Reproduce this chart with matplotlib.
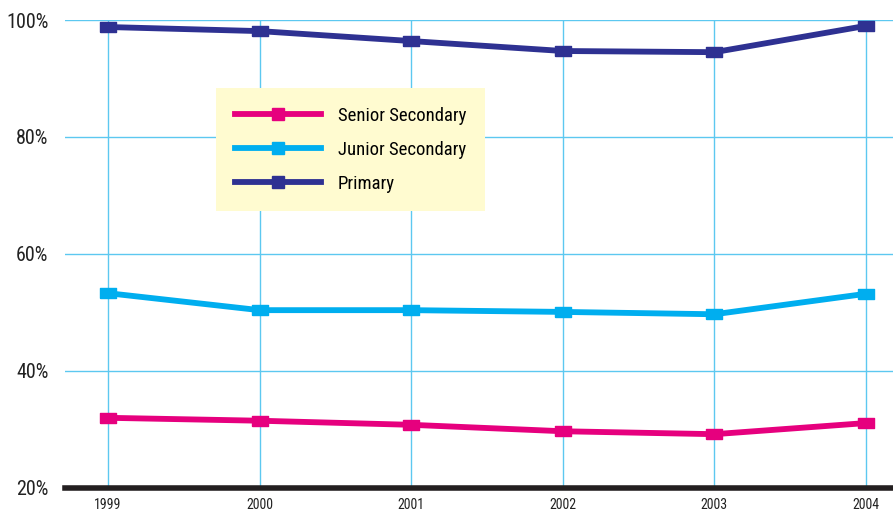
import matplotlib
matplotlib.use("Agg")
import matplotlib.pyplot as plt
from matplotlib.ticker import FuncFormatter
from matplotlib import font_manager
from matplotlib.lines import Line2D

years = [1999, 2000, 2001, 2002, 2003, 2004]
senior = [32.0, 31.5, 30.8, 29.7, 29.2, 31.1]
junior = [53.3, 50.4, 50.4, 50.1, 49.7, 53.2]
primary = [98.8, 98.1, 96.4, 94.7, 94.5, 99.0]
y_ticks = [20, 40, 60, 80, 100]

avail = {f.name for f in font_manager.fontManager.ttflist}
cands = ['Roboto Condensed', 'Liberation Sans Narrow', 'Open Sans Condensed',
         'DejaVu Sans Condensed', 'Roboto']
fam = [c for c in cands if c in avail] + ['DejaVu Sans']
plt.rcParams['font.family'] = fam

fig = plt.figure(figsize=(8.93, 5.14), dpi=100)
W, H = 893, 514
ax = fig.add_axes([65 / W, 1 - 488 / H, (893 - 65) / W, (488 - 20) / H])

grid_c = '#5CC8F0'
for y in y_ticks[1:]:
    ax.axhline(y, color=grid_c, lw=1.0, zorder=1)
for x in years:
    ax.axvline(x, color=grid_c, lw=1.0, zorder=1)

rect = [(-1.6, -1), (1.6, -1), (1.6, 1), (-1.6, 1), (-1.6, -1)]
series = [
    ('Senior Secondary', senior, '#E6007E'),
    ('Junior Secondary', junior, '#00AEEF'),
    ('Primary', primary, '#2E3192'),
]
for name, vals, col in series:
    ax.plot(years, vals, color=col, lw=4.2, marker=rect, markersize=12,
            label=name, zorder=3, clip_on=False)

ax.set_xlim(1998.716, 2004.178)
ax.set_ylim(20, 100)
ax.set_xticks(years)
ax.set_yticks(y_ticks)
ax.yaxis.set_major_formatter(FuncFormatter(lambda v, p: f"{int(v)}%"))
ax.tick_params(axis='both', length=0, colors='#222222')
ax.tick_params(axis='x', pad=7, labelsize=10)
ax.tick_params(axis='y', pad=12, labelsize=14.5)
for s in ['top', 'right', 'left']:
    ax.spines[s].set_visible(False)
ax.spines['bottom'].set_color('#231F20')
ax.spines['bottom'].set_linewidth(4)
ax.spines['bottom'].set_zorder(4)

handles = [Line2D([], [], color=c, lw=4.2, marker='s', markersize=9) for _, _, c in series]
labels = [n for n, _, _ in series]
leg = ax.legend(handles, labels, loc='upper left',
                bbox_to_anchor=((216 - 65) / 828, (488 - 88) / 468),
                borderaxespad=0, frameon=True, fancybox=False, fontsize=13.5,
                handlelength=4.6, handletextpad=0.9, labelspacing=0.85,
                borderpad=1.0)
leg.get_frame().set_facecolor('#FFFBD0')
leg.get_frame().set_edgecolor('none')
leg.get_frame().set_alpha(1)

fig.savefig('out.png', dpi=100)
